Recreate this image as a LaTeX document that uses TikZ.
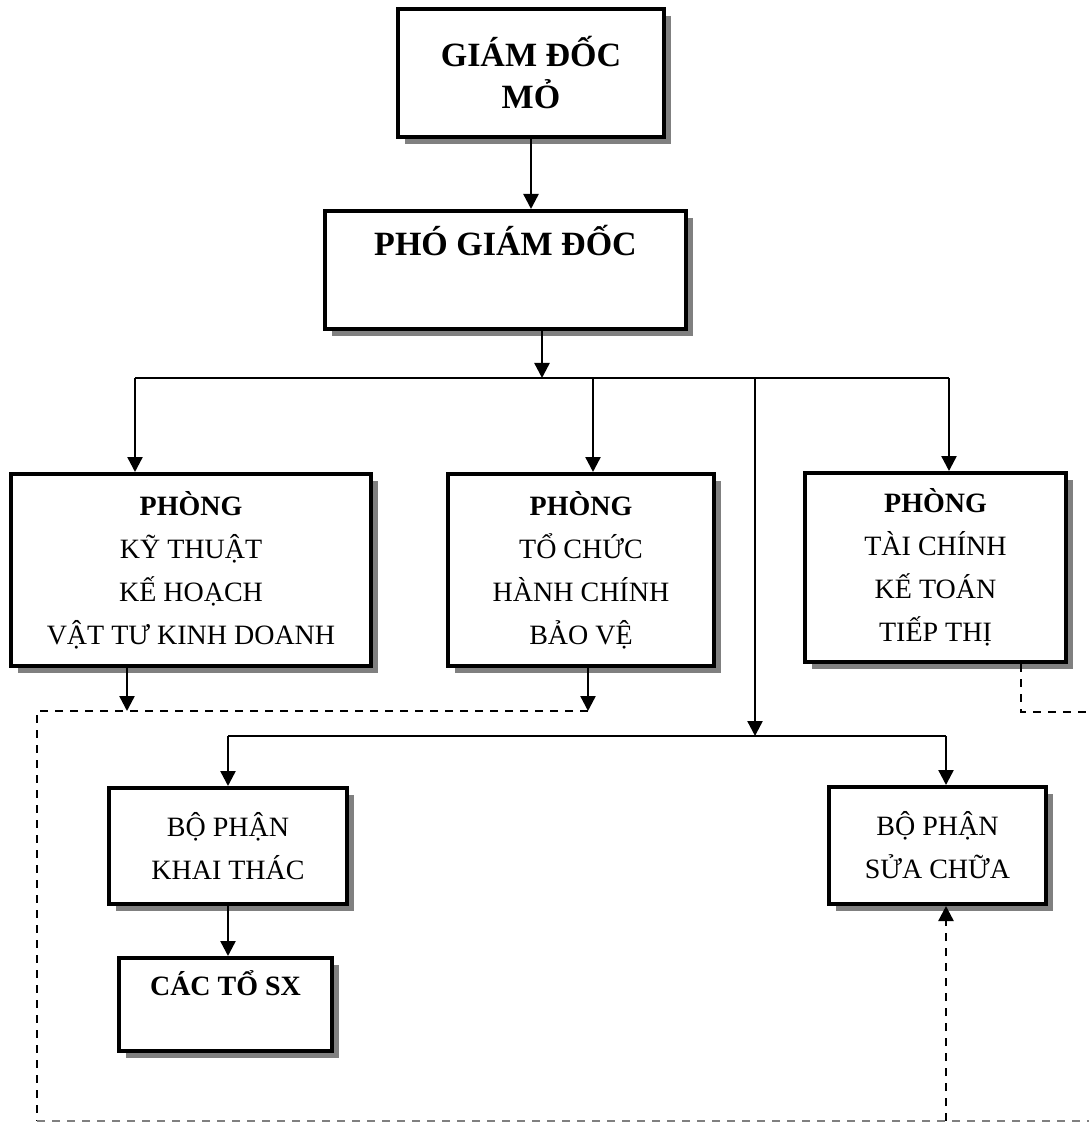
\documentclass[tikz,border=0pt]{standalone}
\usepackage{fontspec}
\setmainfont{Liberation Serif}
\usetikzlibrary{positioning, shadows, arrows.meta}
\newcommand{\headfont}{\fontsize{17pt}{20pt}\selectfont\bfseries}
\newcommand{\unitfont}{\fontsize{14pt}{21.5pt}\selectfont}

\begin{document}
\begin{tikzpicture}[
        x=0.5pt, y=-0.5pt,
        box/.style={draw, line width=2pt, fill=white, align=center, inner sep=0pt,
            drop shadow={shadow xshift=3.5pt, shadow yshift=-3.5pt, fill=gray, opacity=1}},
        head/.style={box, font=\headfont},
        unit/.style={box, font=\unitfont},
        link/.style={line width=1.2pt},
        arrow/.style={-{Triangle[length=7.5pt, width=7.5pt]}, line width=1.2pt},
        dashlink/.style={line width=1.2pt, dash pattern=on 4pt off 3.5pt}
    ]
    \useasboundingbox (0,0) rectangle (1089,1122);

    % Nodes
    \node[head, minimum width=133pt, minimum height=64pt] (gd) at (531,73) {GIÁM ĐỐC\\[1pt]MỎ};
    \node[head, minimum width=180.5pt, minimum height=59pt] (pgd) at (505.5,270) {PHÓ GIÁM ĐỐC\\[10pt]~};

    \node[unit, minimum width=180pt, minimum height=96pt] (pkt) at (191,570) {\textbf{PHÒNG}\\KỸ THUẬT\\KẾ HOẠCH\\VẬT TƯ KINH DOANH};
    \node[unit, minimum width=133pt, minimum height=96pt] (ptc) at (581,570) {\textbf{PHÒNG}\\TỔ CHỨC\\HÀNH CHÍNH\\BẢO VỆ};
    \node[unit, minimum width=130.5pt, minimum height=94.5pt] (ptckt) at (935.5,567.5) {\textbf{PHÒNG}\\TÀI CHÍNH\\KẾ TOÁN\\TIẾP THỊ};

    \node[unit, minimum width=119pt, minimum height=58pt] (bpkt) at (228,846) {BỘ PHẬN\\KHAI THÁC};
    \node[unit, minimum width=108.5pt, minimum height=58.5pt] (bpsc) at (937.5,845.5) {BỘ PHẬN\\SỬA CHỮA};
    \node[unit, minimum width=106.5pt, minimum height=46.5pt, below=25pt of bpkt, xshift=-1.25pt] (cto) {\textbf{CÁC TỔ SX}\\~};

    % Bus points
    \coordinate (bus1L) at (135,378);
    \coordinate (bus1M) at (542,378);
    \coordinate (bus1T) at (593,378);
    \coordinate (bus1S) at (755,378);
    \coordinate (bus1R) at (949,378);
    \coordinate (bus2L) at (228,736);
    \coordinate (bus2M) at (755,736);
    \coordinate (bus2R) at (946,736);
    \coordinate (pktout) at (127,711);
    \coordinate (ptcout) at (588,711);
    \coordinate (loopTL) at (37,711);
    \coordinate (loopBL) at (37,1121);
    \coordinate (loopBR) at (1089,1121);
    \coordinate (scin) at (946,1121);
    \coordinate (tkout) at (1021,712);
    \coordinate (tkend) at (1089,712);

    % Arrows
    \draw[arrow] (gd.south) -- (gd.south |- pgd.north);
    \draw[arrow] (pgd.south -| bus1M) -- (bus1M);
    \draw[link] (bus1L) -- (bus1R);
    \draw[arrow] (bus1L) -- (bus1L |- pkt.north);
    \draw[arrow] (bus1T) -- (bus1T |- ptc.north);
    \draw[arrow] (bus1R) -- (bus1R |- ptckt.north);
    \draw[arrow] (bus1S) -- (bus2M);
    \draw[link] (bus2L) -- (bus2R);
    \draw[arrow] (bus2L) -- (bus2L |- bpkt.north);
    \draw[arrow] (bus2R) -- (bus2R |- bpsc.north);
    \draw[arrow] (bpkt.south) -- (bpkt.south |- cto.north);

    % Dashed loop
    \draw[arrow] (pkt.south -| pktout) -- (pktout);
    \draw[arrow] (ptc.south -| ptcout) -- (ptcout);
    \draw[dashlink] (ptcout) -- (loopTL) -- (loopBL);
    \draw[dashlink, gray] (loopBL) -- (loopBR);
    \draw[dashlink, arrow] (scin) -- (scin |- bpsc.south);
    \draw[dashlink] (ptckt.south -| tkout) -- (tkout) -- (tkend);
\end{tikzpicture}
\end{document}
